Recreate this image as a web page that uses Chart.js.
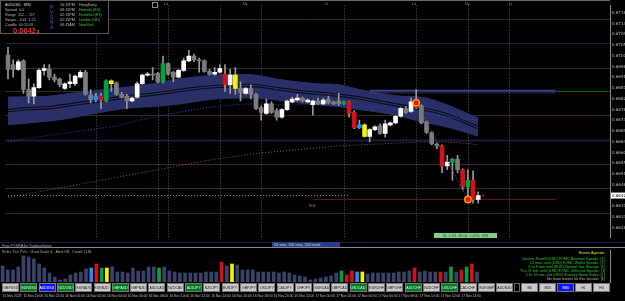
<!DOCTYPE html>
<html>
<head>
<meta charset="utf-8">
<script src="https://cdn.jsdelivr.net/npm/chart.js@4.4.0/dist/chart.umd.min.js"></script>
<style>
  body { margin: 0; background: #000; overflow: hidden; font-family: "Liberation Sans", Arial, sans-serif; }
  #stage { position: relative; width: 625px; height: 301px; background: #000; }
  canvas { position: absolute; left: 0; }
  /* tiny text: drawn at 2x and scaled down, Chrome keeps a minimum font size */
  .t { position: absolute; white-space: nowrap; font-size: 7.4px; line-height: 10px; color: #bdbdbd;
       transform: scale(0.5); transform-origin: 0 0; }
  .t.r { transform-origin: 100% 0; text-align: right; }
  .btn { position: absolute; top: 283px; width: 17px; height: 9px; background: #c9c9c9; border: 1px solid #777;
         box-sizing: border-box; color: #222; display: flex; align-items: center; justify-content: center; overflow: visible; }
  .btn span { font-size: 7px; white-space: nowrap; transform: scale(0.5); }
  .btn.on { background: #007a1c; color: #cfe; }
  .btn.cur { background: #0a14ff; color: #fff; }
  .btn.off { background: #000; border-color: #666; }
</style>
</head>
<body>
<div id="stage">
  <canvas id="priceChart" width="625" height="243" style="top:0"></canvas>
  <canvas id="volChart" width="625" height="53" style="top:248px"></canvas>
  <div style="position:absolute;left:0;top:0;width:610px;height:1px;background:#6a6a6a"></div>

  <!-- info panel -->
  <div style="position:absolute;left:0;top:0;width:109px;height:34px;border:1px solid #5a5a5a;box-sizing:border-box;background:#000"></div>
  <div class="t" style="left:5px;top:2px;color:#ddd">AUDUSD&nbsp;&nbsp;&nbsp;M30</div>
  <div class="t" style="left:5px;top:7px">Spread&nbsp;&nbsp;0.0</div>
  <div class="t" style="left:5px;top:12px">Range&nbsp;&nbsp;112 ... 117</div>
  <div class="t" style="left:5px;top:17px">Swaps&nbsp;&nbsp;-3.41 &nbsp;1.21</div>
  <div class="t" style="left:5px;top:22px">Candle&nbsp;&nbsp;00:11:03</div>
  <div class="t" style="left:13px;top:26px;font-size:15px;line-height:16px;color:#ff2020;font-weight:bold">0.6642<span style="font-size:8px;color:#ccc"> 1</span></div>
  <div class="t" style="left:50px;top:5px;color:#3a5fd0;font-size:10px;line-height:10px;width:10px;white-space:normal">P V S R A</div>
  <div class="t" style="left:60px;top:2px">10:15PM</div><div class="t" style="left:79px;top:2px">HongKong</div>
  <div class="t" style="left:60px;top:7px">09:15PM</div><div class="t" style="left:79px;top:7px;color:#3ccf3c">Helsinki (EU)</div>
  <div class="t" style="left:60px;top:12px">02:15PM</div><div class="t" style="left:79px;top:12px;color:#3ccf3c">Frankfurt (FT)</div>
  <div class="t" style="left:60px;top:17px">02:15PM</div><div class="t" style="left:79px;top:17px;color:#3ccf3c">London (UK)</div>
  <div class="t" style="left:60px;top:22px">09:15AM</div><div class="t" style="left:79px;top:22px;color:#3ccf3c">NewYork</div>
  <div style="position:absolute;left:152px;top:2px;width:4px;height:4px;border:1px solid #888"></div>

  <!-- session tags on top -->
  <div class="t" style="left:164px;top:1px;color:#888">Lo</div>
  <div class="t" style="left:243px;top:1px;color:#888">Ny</div>
  <div class="t" style="left:325px;top:1px;color:#888">Lt</div>
  <div class="t" style="left:412px;top:1px;color:#888">Lo</div>
  <div class="t" style="left:465px;top:1px;color:#888">Ny</div>
  <div class="t" style="left:509px;top:1px;color:#888">Lt</div>

  <div class="t" style="left:309px;top:203px;color:#999">SOL</div>
  <div class="t" style="left:434px;top:233px;width:126px;height:10px;background:#7fd08a;color:#1c4a22;text-align:center">SL 1.5R: 49.04 &nbsp;1.25% &nbsp;878</div>

  <!-- separator strip -->
  <div style="position:absolute;left:0;top:242px;width:625px;height:1px;background:#1a1f45"></div>
  <div class="t" style="left:2px;top:243px;color:#aaa">Free PVSRA by Traderathome</div>
  <div class="t" style="left:272px;top:242px;width:132px;height:12px;background:#2c3a8c;color:#cdd;padding-left:4px">20 sma, 100 sma, 200 trend</div>
  <div style="position:absolute;left:0;top:247px;width:625px;height:1px;background:#8a8a8a"></div>

  <div class="t" style="left:2px;top:249px;color:#aaa">Strike Tick PVs: &nbsp;Chart Scale 4, &nbsp;Alert Off, &nbsp;Count: 1181</div>

  <div class="t r" style="right:20px;top:250px;color:#e8e800">Events Agenda:</div>
  <div class="t r" style="right:20px;top:256px;color:#2ecb2e">Jerome Powell (USD) FOMC Bowman Speaks &nbsp;[1]</div>
  <div class="t r" style="right:20px;top:260px;color:#2ecb2e">12 mins until (USD) FOMC Waller Speaks &nbsp;[1]</div>
  <div class="t r" style="right:20px;top:264px;color:#2ecb2e">6 hr 8 min until (EUR) Natural Gas Storage &nbsp;[1]</div>
  <div class="t r" style="right:20px;top:268px;color:#2ecb2e">Thu 21 min until (USD) FOMC Jefferson Speaks &nbsp;[1]</div>
  <div class="t r" style="right:20px;top:272px;color:#2ecb2e">5 hr 12 min until (USD) Existing Home Sales &nbsp;[1]</div>
  <div class="t r" style="right:20px;top:276px;color:#bbbbbb">No more events for this session &nbsp;[1]</div>
  <div id="buttons"></div>
</div>

<script>
// M30 candles, oldest first
const openP = [
  0.67008, 0.66968, 0.66948, 0.66984, 0.66864, 0.66836, 0.66872, 0.66944, 0.66948, 0.66916,
  0.66908, 0.66868, 0.66888, 0.66888, 0.66916, 0.66936, 0.66840, 0.66820, 0.66836, 0.66816,
  0.66900, 0.66892, 0.66844, 0.66836, 0.66816, 0.66832, 0.66888, 0.66924, 0.66928, 0.66932,
  0.66896, 0.66972, 0.66936, 0.66916, 0.66944, 0.66984, 0.67004, 0.66988, 0.66984, 0.66940,
  0.66928, 0.66936, 0.66928, 0.66884, 0.66924, 0.66868, 0.66848, 0.66868, 0.66844, 0.66788,
  0.66764, 0.66804, 0.66776, 0.66748, 0.66780, 0.66812, 0.66820, 0.66828, 0.66812, 0.66800,
  0.66816, 0.66804, 0.66824, 0.66812, 0.66816, 0.66804, 0.66812, 0.66768, 0.66704, 0.66716,
  0.66668, 0.66696, 0.66712, 0.66680, 0.66716, 0.66724, 0.66752, 0.66784, 0.66772, 0.66804,
  0.66796, 0.66728, 0.66684, 0.66636, 0.66628, 0.66544, 0.66560, 0.66572, 0.66528, 0.66456,
  0.66484, 0.66404
];
const highP = [
  0.67040, 0.66988, 0.66988, 0.66988, 0.66908, 0.66888, 0.66952, 0.66968, 0.66968, 0.66928,
  0.66912, 0.66892, 0.66928, 0.66924, 0.66944, 0.66944, 0.66864, 0.66848, 0.66848, 0.66904,
  0.66904, 0.66896, 0.66852, 0.66844, 0.66832, 0.66896, 0.66928, 0.66936, 0.66956, 0.66936,
  0.67004, 0.66976, 0.66940, 0.66948, 0.66996, 0.67028, 0.67012, 0.66996, 0.66988, 0.66948,
  0.66956, 0.66968, 0.66968, 0.66948, 0.66956, 0.66896, 0.66872, 0.66884, 0.66848, 0.66796,
  0.66824, 0.66812, 0.66784, 0.66784, 0.66820, 0.66832, 0.66844, 0.66832, 0.66824, 0.66820,
  0.66828, 0.66828, 0.66836, 0.66816, 0.66848, 0.66816, 0.66816, 0.66776, 0.66736, 0.66720,
  0.66700, 0.66712, 0.66720, 0.66736, 0.66728, 0.66756, 0.66788, 0.66792, 0.66828, 0.66864,
  0.66800, 0.66732, 0.66688, 0.66640, 0.66632, 0.66588, 0.66576, 0.66588, 0.66532, 0.66528,
  0.66524, 0.66436
];
const lowP = [
  0.66908, 0.66916, 0.66944, 0.66848, 0.66808, 0.66804, 0.66868, 0.66924, 0.66904, 0.66896,
  0.66876, 0.66864, 0.66872, 0.66880, 0.66912, 0.66840, 0.66808, 0.66812, 0.66784, 0.66812,
  0.66856, 0.66840, 0.66828, 0.66784, 0.66812, 0.66828, 0.66884, 0.66920, 0.66904, 0.66892,
  0.66892, 0.66924, 0.66896, 0.66912, 0.66940, 0.66980, 0.66980, 0.66936, 0.66936, 0.66924,
  0.66924, 0.66932, 0.66856, 0.66848, 0.66844, 0.66816, 0.66844, 0.66824, 0.66780, 0.66736,
  0.66760, 0.66764, 0.66736, 0.66744, 0.66776, 0.66808, 0.66816, 0.66812, 0.66808, 0.66756,
  0.66800, 0.66800, 0.66804, 0.66800, 0.66796, 0.66800, 0.66748, 0.66700, 0.66700, 0.66664,
  0.66644, 0.66692, 0.66676, 0.66664, 0.66712, 0.66720, 0.66748, 0.66764, 0.66768, 0.66784,
  0.66720, 0.66680, 0.66632, 0.66616, 0.66516, 0.66528, 0.66484, 0.66516, 0.66444, 0.66404,
  0.66388, 0.66388
];
const closeP = [
  0.66948, 0.66948, 0.66980, 0.66864, 0.66836, 0.66872, 0.66944, 0.66952, 0.66916, 0.66904,
  0.66884, 0.66888, 0.66896, 0.66920, 0.66936, 0.66844, 0.66820, 0.66836, 0.66820, 0.66900,
  0.66888, 0.66844, 0.66832, 0.66816, 0.66828, 0.66888, 0.66924, 0.66928, 0.66924, 0.66896,
  0.66972, 0.66928, 0.66916, 0.66944, 0.66984, 0.67004, 0.66988, 0.66984, 0.66940, 0.66928,
  0.66936, 0.66952, 0.66884, 0.66924, 0.66868, 0.66852, 0.66868, 0.66844, 0.66784, 0.66768,
  0.66804, 0.66768, 0.66748, 0.66780, 0.66816, 0.66824, 0.66828, 0.66816, 0.66820, 0.66816,
  0.66804, 0.66820, 0.66808, 0.66804, 0.66804, 0.66812, 0.66764, 0.66704, 0.66716, 0.66668,
  0.66696, 0.66708, 0.66680, 0.66720, 0.66724, 0.66752, 0.66784, 0.66768, 0.66812, 0.66788,
  0.66724, 0.66684, 0.66636, 0.66628, 0.66544, 0.66560, 0.66572, 0.66528, 0.66456, 0.66484,
  0.66404, 0.66420
];
const tickVolume = [
  800, 600, 600, 750, 1300, 1250, 1150, 900, 700, 450,
  250, 100, 150, 350, 450, 500, 650, 700, 900, 700,
  700, 750, 500, 500, 450, 700, 550, 550, 750, 750,
  700, 750, 550, 500, 450, 450, 450, 450, 450, 500,
  500, 500, 1000, 800, 900, 850, 600, 600, 600, 500,
  500, 500, 500, 450, 500, 450, 350, 300, 250, 100,
  150, 200, 250, 300, 450, 550, 350, 550, 500, 500,
  400, 450, 450, 450, 450, 450, 500, 500, 550, 700,
  500, 550, 500, 500, 500, 500, 750, 500, 600, 750,
  900, 500
];
// PVSRA candle classes
const pvsra = {
  17: 'risingBull', 18: 'climaxBear', 19: 'climaxBull', 20: 'risingBear', 30: 'climaxBull',
  42: 'climaxBear', 44: 'risingBear', 65: 'climaxBull', 66: 'climaxBear', 67: 'climaxBear',
  68: 'risingBull', 69: 'risingBear', 79: 'climaxBear', 84: 'climaxBear', 86: 'climaxBull',
  88: 'climaxBear', 89: 'climaxBull', 90: 'climaxBear'
};

// band / moving averages, read every 4 bars
const maIdx = [0, 4, 8, 12, 16, 20, 24, 28, 32, 36, 40, 44, 48, 52, 56, 60, 64, 68, 72, 76, 80, 84, 88, 91];
const bandUpper = [0.66832, 0.66834, 0.66836, 0.66848, 0.66856, 0.66868, 0.66876, 0.66888, 0.66904, 0.66916, 0.66924, 0.66928,
  0.66924, 0.66908, 0.66896, 0.66888, 0.66884, 0.66864, 0.66848, 0.66836, 0.66832, 0.66808, 0.66772, 0.66744];
const bandLower = [0.66716, 0.66724, 0.66732, 0.66744, 0.66760, 0.66776, 0.66788, 0.66792, 0.66800, 0.66812, 0.66824, 0.66828,
  0.66828, 0.66820, 0.66808, 0.66800, 0.66792, 0.66780, 0.66768, 0.66752, 0.66728, 0.66712, 0.66688, 0.66668];
const bandMid = [0.66776, 0.66784, 0.66788, 0.66800, 0.66812, 0.66824, 0.66836, 0.66844, 0.66856, 0.66868, 0.66876, 0.66880,
  0.66880, 0.66868, 0.66856, 0.66848, 0.66840, 0.66828, 0.66812, 0.66796, 0.66784, 0.66764, 0.66732, 0.66704];
const sma100 = [0.66644, 0.66660, 0.66672, 0.66684, 0.66696, 0.66708, 0.66728, 0.66748, 0.66764, 0.66780, 0.66792, 0.66800,
  0.66804, 0.66800, 0.66800, 0.66800, 0.66796, 0.66792, 0.66788, 0.66776, 0.66768, 0.66752, 0.66740, 0.66736];
const trend200 = [0.66412, 0.66428, 0.66444, 0.66460, 0.66476, 0.66492, 0.66508, 0.66524, 0.66540, 0.66556, 0.66572, 0.66584,
  0.66596, 0.66604, 0.66612, 0.66620, 0.66628, 0.66632, 0.66636, 0.66640, 0.66644, 0.66644, 0.66640, 0.66632];

const roundLevels = [0.67160, 0.67060, 0.66956, 0.66856, 0.66756, 0.66652, 0.66552, 0.66452, 0.66348];
const sessionBars = [17, 29, 31, 41, 49, 65, 79, 89, 97];
const swingPoints = [{ x: 79, y: 0.66808 }, { x: 89, y: 0.66404 }];

const timeLabels = ['15 Nov 2023', '15 Nov 20:00', '15 Nov 22:00', '16 Nov 00:00', '16 Nov 02:00', '16 Nov 04:00',
  '16 Nov 06:00', '16 Nov 08:00', '16 Nov 10:00', '16 Nov 12:00', '16 Nov 14:00', '16 Nov 16:00', '16 Nov 18:00',
  '16 Nov 20:00', '16 Nov 22:00', '17 Nov 00:00', '17 Nov 02:00', '17 Nov 04:00', '17 Nov 06:00', '17 Nov 08:00',
  '17 Nov 10:00', '17 Nov 12:00', '17 Nov 14:00'];
const pairs = ['GBPUSD', 'EURUSD', 'AUDUSD', 'NZDUSD', 'EURAUD', 'EURNZD', 'GBPAUD', 'GBPNZD', 'AUDCAD', 'NZDCAD',
  'AUDJPY', 'NZDJPY', 'EURJPY', 'GBPJPY', 'USDJPY', 'CADJPY', 'CHFJPY', 'EURCAD', 'GBPCAD', 'USDCAD',
  'EURCHF', 'GBPCHF', 'AUDCHF', 'NZDCHF', 'USDCHF', 'CADCHF', 'EURGBP', 'AUDNZD'];
const timeframes = ['', 'M5', 'M15', 'M30', 'H1', 'H4'];

const SLOTS = 117;
const slots = Array.from({ length: SLOTS }, (_, i) => i);
const pvsraColors = { climaxBull: '#00a23c', climaxBear: '#d4101c', risingBull: '#1e8cff', risingBear: '#f5f500' };
const levelColors = ['#3c1e18', '#1a1e40', '#2e2e18', '#153f15', '#3a2418', '#1a1a3e', '#3a2818', '#153a15', '#3a2418'];
const BAND = '#2a2f68';

const candleColor = i => pvsra[i] ? pvsraColors[pvsra[i]] : (closeP[i] >= openP[i] ? '#ffffff' : '#7c7c7c');
const atBars = vals => maIdx.map((x, i) => ({ x, y: vals[i] }));
const lastClose = closeP[closeP.length - 1];

const lineDs = (data, color, extra) => Object.assign({
  type: 'line', data, borderColor: color, borderWidth: 1, pointRadius: 0, fill: false, tension: 0.35
}, extra);

const fitRight = s => { s.width = 15; s.paddingTop = 0; s.paddingBottom = 0; };

const backdrop = {
  id: 'backdrop',
  beforeDatasetsDraw(chart) {
    const { ctx, chartArea: a, scales: { x, y } } = chart;
    ctx.save();
    roundLevels.forEach((p, i) => {
      ctx.strokeStyle = levelColors[i];
      ctx.lineWidth = i === 5 ? 2 : 1;
      const py = Math.round(y.getPixelForValue(p)) + 0.5;
      ctx.beginPath(); ctx.moveTo(a.left, py); ctx.lineTo(a.right, py); ctx.stroke();
    });
    ctx.strokeStyle = '#5a5a5a';
    ctx.setLineDash([1, 2]);
    sessionBars.forEach(b => {
      const px = Math.round(x.getPixelForValue(b)) + 0.5;
      ctx.beginPath(); ctx.moveTo(px, a.top); ctx.lineTo(px, a.bottom); ctx.stroke();
    });
    ctx.restore();
  },
  afterDraw(chart) {
    const { ctx, chartArea: a, scales: { y } } = chart;
    const py = y.getPixelForValue(lastClose);
    ctx.save();
    ctx.fillStyle = '#ffffff';
    ctx.fillRect(a.right + 1, py - 3, 14, 6);
    ctx.fillStyle = '#000';
    ctx.font = '4px "DejaVu Sans"';
    ctx.textBaseline = 'middle';
    ctx.fillText(lastClose.toFixed(5), a.right + 2, py);
    ctx.restore();
  }
};

new Chart(document.getElementById('priceChart'), {
  type: 'bar',
  data: {
    labels: slots,
    datasets: [
      lineDs(atBars(bandUpper), BAND, { order: 10 }),
      lineDs(atBars(bandLower), BAND, { order: 10, fill: '-1', backgroundColor: BAND }),
      lineDs(atBars(bandMid), '#0c0d1c', { order: 9, borderWidth: 3.5 }),
      lineDs(atBars(bandMid), BAND, { order: 8, borderWidth: 1.2 }),
      lineDs(atBars(sma100), '#3440c8', { order: 7, borderDash: [1, 2] }),
      lineDs(atBars(trend200), '#7a6440', { order: 7, borderDash: [1, 2] }),
      lineDs([{ x: 70, y: 0.66860 }, { x: 106, y: 0.66860 }], '#3c3ca8', { order: 6, borderWidth: 1.5, tension: 0 }),
      lineDs([{ x: 70, y: 0.66850 }, { x: 106, y: 0.66850 }], '#8c3c8c', { order: 6, borderDash: [1, 1], tension: 0 }),
      lineDs([{ x: 106, y: 0.66856 }, { x: 116, y: 0.66856 }], '#0f6a0f', { order: 6, tension: 0 }),
      lineDs([{ x: 59, y: 0.66404 }, { x: 106, y: 0.66404 }], '#6e1818', { order: 6, tension: 0 }),
      lineDs([{ x: 0, y: 0.66420 }, { x: 66, y: 0.66420 }], '#8a8a8a', { order: 6, borderDash: [1, 2], tension: 0 }),
      {
        type: 'bar', data: openP.map((_, i) => [lowP[i], highP[i]]),
        backgroundColor: '#9a9a9a', barThickness: 1, grouped: false, order: 3
      },
      {
        type: 'bar', data: openP.map((o, i) => [o, closeP[i]]),
        backgroundColor: openP.map((_, i) => candleColor(i)), barThickness: 4, minBarLength: 1,
        grouped: false, order: 2
      },
      lineDs(swingPoints, '#555555', { order: 1, borderDash: [1, 1], tension: 0 }),
      lineDs(swingPoints, 'transparent', {
        order: 0, showLine: false, pointRadius: 3.2, pointBackgroundColor: '#e01818',
        pointBorderColor: '#ffa000', pointBorderWidth: 1.4
      }),
      lineDs([{ x: 92, y: 0.66420 }], 'transparent', { order: 0, showLine: false, pointRadius: 1, pointBackgroundColor: '#e01818', pointBorderWidth: 0 })
    ]
  },
  options: {
    responsive: false, animation: false,
    layout: { padding: 0 },
    plugins: { legend: { display: false }, tooltip: { enabled: false } },
    scales: {
      x: { display: false, offset: true },
      y: {
        position: 'right', min: 0.66244, max: 0.67216,
        grid: { display: false, drawTicks: false },
        border: { color: '#8a8a8a' },
        ticks: {
          stepSize: 0.00045, includeBounds: false, padding: 2, color: '#bdbdbd',
          font: { size: 4, family: 'DejaVu Sans' }, callback: v => v.toFixed(5)
        },
        afterFit: fitRight
      }
    }
  },
  plugins: [backdrop]
});

new Chart(document.getElementById('volChart'), {
  type: 'bar',
  data: {
    labels: slots,
    datasets: [{
      data: tickVolume,
      backgroundColor: tickVolume.map((_, i) => pvsra[i] ? pvsraColors[pvsra[i]] : '#3a4268'),
      barThickness: 3
    }]
  },
  options: {
    responsive: false, animation: false,
    layout: { padding: { top: 2 } },
    plugins: { legend: { display: false }, tooltip: { enabled: false } },
    scales: {
      x: {
        offset: true,
        grid: { display: false, drawTicks: false },
        border: { display: false },
        ticks: {
          autoSkip: false, maxRotation: 0, align: 'start', padding: 12, color: '#bdbdbd',
          font: { size: 3.3, family: 'Liberation Sans' },
          callback: (v, i) => (i % 4 === 0 && timeLabels[i / 4]) ? timeLabels[i / 4] : ''
        },
        afterFit: s => { s.height = 19; s.paddingLeft = 0; s.paddingRight = 0; }
      },
      y: {
        position: 'right', min: 0, max: 1600,
        grid: { display: false, drawTicks: false },
        border: { color: '#8a8a8a' },
        ticks: { display: false },
        afterFit: fitRight
      }
    }
  }
});

// symbol and timeframe buttons
const bar = document.getElementById('buttons');
const greenPairs = ['EURUSD', 'NZDUSD', 'GBPAUD', 'AUDJPY', 'USDCAD', 'AUDCHF', 'USDCHF'];
const addButton = (text, cls, left, width) => {
  const b = document.createElement('div');
  b.className = 'btn' + cls;
  b.style.left = left + 'px';
  b.style.width = width + 'px';
  const s = document.createElement('span');
  s.textContent = text;
  b.appendChild(s);
  bar.appendChild(b);
};
pairs.forEach((p, i) => {
  addButton(p, p === 'AUDUSD' ? ' cur' : greenPairs.includes(p) ? ' on' : '', 2 + i * 18.3, 17);
});
timeframes.forEach((tf, i) => {
  const cls = tf === '' ? ' off' : tf === 'M30' ? ' cur' : '';
  addButton(tf, cls, i === 0 ? 514 : 521 + (i - 1) * 18, i === 0 ? 6 : 17);
});
</script>
</body>
</html>
